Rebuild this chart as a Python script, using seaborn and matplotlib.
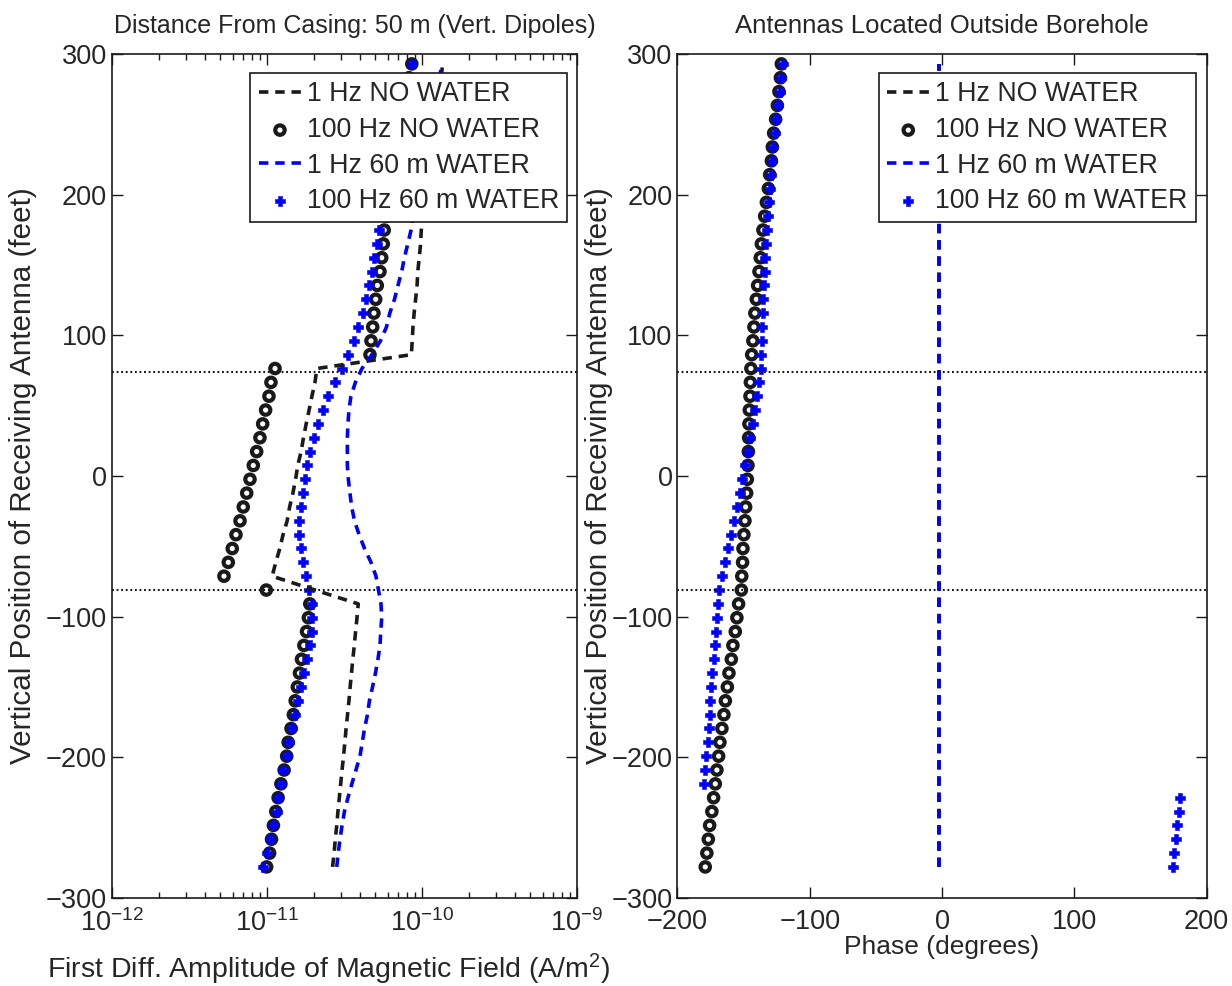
import numpy as np
import pandas as pd
import matplotlib
matplotlib.use("Agg")
import matplotlib.pyplot as plt
import seaborn as sns

# Receiver stations (3 m spacing), plotted in feet
station_m = np.arange(-84.7, 90.0, 3.0)
depth_ft = station_m * 3.2808

# Boundaries of the water-filled zone (feet)
zone_top_ft = 74.0
zone_bottom_ft = -81.0

# First-difference amplitude (A/m^2), bottom station first
amp_1hz_dry = [
    2.65e-11, 2.71e-11, 2.76e-11, 2.82e-11, 2.87e-11, 2.93e-11, 2.99e-11, 3.05e-11,
    3.12e-11, 3.18e-11, 3.24e-11, 3.31e-11, 3.38e-11, 3.44e-11, 3.51e-11, 3.58e-11,
    3.66e-11, 3.73e-11, 3.81e-11, 3.88e-11, 2.04e-11, 1.08e-11, 1.14e-11, 1.21e-11,
    1.27e-11, 1.35e-11, 1.40e-11, 1.47e-11, 1.53e-11, 1.58e-11, 1.66e-11, 1.72e-11,
    1.79e-11, 1.87e-11, 1.95e-11, 2.04e-11, 2.10e-11, 8.55e-11, 8.65e-11, 8.75e-11,
    8.90e-11, 9.10e-11, 9.30e-11, 9.40e-11, 9.60e-11, 9.80e-11, 9.90e-11, 1.01e-10,
    1.04e-10, 1.07e-10, 1.10e-10, 1.13e-10, 1.16e-10, 1.19e-10, 1.22e-10, 1.26e-10,
    1.30e-10, 1.33e-10, 1.36e-10,
]
amp_100hz_dry = [
    9.95e-12, 1.04e-11, 1.07e-11, 1.10e-11, 1.14e-11, 1.18e-11, 1.23e-11, 1.29e-11,
    1.34e-11, 1.37e-11, 1.43e-11, 1.48e-11, 1.52e-11, 1.57e-11, 1.62e-11, 1.67e-11,
    1.73e-11, 1.80e-11, 1.85e-11, 1.89e-11, 9.90e-12, 5.28e-12, 5.63e-12, 5.97e-12,
    6.31e-12, 6.70e-12, 7.03e-12, 7.40e-12, 7.77e-12, 8.16e-12, 8.58e-12, 9.01e-12,
    9.38e-12, 9.80e-12, 1.03e-11, 1.061e-11, 1.127e-11, 4.62e-11, 4.69e-11, 4.81e-11,
    4.90e-11, 5.03e-11, 5.15e-11, 5.36e-11, 5.50e-11, 5.63e-11, 5.71e-11, 5.92e-11,
    6.08e-11, 6.24e-11, 6.42e-11, 6.62e-11, 6.84e-11, 7.08e-11, 7.34e-11, 7.62e-11,
    7.92e-11, 8.24e-11, 8.60e-11,
]
amp_1hz_water = [
    2.82e-11, 2.88e-11, 2.96e-11, 3.05e-11, 3.16e-11, 3.33e-11, 3.53e-11, 3.75e-11,
    3.98e-11, 4.12e-11, 4.26e-11, 4.45e-11, 4.58e-11, 4.80e-11, 5.01e-11, 5.20e-11,
    5.36e-11, 5.42e-11, 5.50e-11, 5.44e-11, 5.24e-11, 5.05e-11, 4.69e-11, 4.26e-11,
    3.93e-11, 3.67e-11, 3.52e-11, 3.43e-11, 3.35e-11, 3.30e-11, 3.30e-11, 3.30e-11,
    3.33e-11, 3.38e-11, 3.48e-11, 3.72e-11, 4.10e-11, 4.75e-11, 5.40e-11, 5.90e-11,
    6.20e-11, 6.65e-11, 7.00e-11, 7.40e-11, 7.70e-11, 8.10e-11, 8.50e-11, 8.80e-11,
    9.10e-11, 9.60e-11, 9.90e-11, 1.04e-10, 1.08e-10, 1.12e-10, 1.16e-10, 1.20e-10,
    1.25e-10, 1.30e-10, 1.34e-10,
]
amp_100hz_water = [
    9.47e-12, 9.95e-12, 1.04e-11, 1.09e-11, 1.16e-11, 1.18e-11, 1.23e-11, 1.27e-11,
    1.34e-11, 1.39e-11, 1.44e-11, 1.52e-11, 1.59e-11, 1.67e-11, 1.73e-11, 1.82e-11,
    1.89e-11, 1.94e-11, 1.94e-11, 1.94e-11, 1.87e-11, 1.79e-11, 1.70e-11, 1.65e-11,
    1.62e-11, 1.62e-11, 1.65e-11, 1.70e-11, 1.76e-11, 1.82e-11, 1.89e-11, 2.01e-11,
    2.12e-11, 2.29e-11, 2.48e-11, 2.75e-11, 3.03e-11, 3.35e-11, 3.62e-11, 3.88e-11,
    4.14e-11, 4.35e-11, 4.57e-11, 4.74e-11, 4.90e-11, 5.10e-11, 5.32e-11, 5.65e-11,
    5.95e-11, 6.26e-11, 6.59e-11, 6.90e-11, 7.21e-11, 7.48e-11, 7.77e-11, 8.06e-11,
    8.30e-11, 8.49e-11, 8.60e-11,
]

# Phase (degrees), bottom station first
phase_1hz_dry = [
    -2.5, -2.5, -2.5, -2.5, -2.5, -2.5, -2.5, -2.5, -2.5, -2.5, -2.5, -2.5, -2.5, -2.5, -2.5,
    -2.5, -2.5, -2.5, -2.5, -2.5, -2.5, -2.5, -2.5, -2.5, -2.5, -2.5, -2.5, -2.5, -2.5, -2.5,
    -2.5, -2.5, -2.5, -2.5, -2.5, -2.5, -2.5, -2.5, -2.5, -2.5, -2.5, -2.5, -2.5, -2.5, -2.5,
    -2.5, -2.5, -2.5, -2.5, -2.5, -2.5, -2.5, -2.5, -2.5, -2.5, -2.5, -2.5, -2.5, -2.5,
]
phase_100hz_dry = [
    -179.0, -177.8, -176.7, -175.7, -174.0, -172.7, -171.4, -170.2, -168.9, -167.9,
    -166.4, -164.9, -163.8, -162.3, -161.1, -159.3, -158.1, -156.3, -155.1, -153.8,
    -151.7, -151.4, -150.8, -150.5, -149.8, -149.0, -148.5, -147.7, -147.2, -146.7,
    -146.4, -146.2, -146.0, -145.7, -145.2, -144.9, -144.5, -143.9, -143.0, -142.2,
    -141.5, -140.4, -139.4, -138.4, -137.4, -136.6, -135.4, -134.1, -132.8, -131.3,
    -130.3, -129.0, -128.3, -127.3, -125.8, -124.5, -123.3, -122.2, -121.5,
]
phase_1hz_water = [
    -2.5, -2.5, -2.5, -2.5, -2.5, -2.5, -2.5, -2.5, -2.5, -2.5, -2.5, -2.5, -2.5, -2.5, -2.5,
    -2.5, -2.5, -2.5, -2.5, -2.5, -2.5, -2.5, -2.5, -2.5, -2.5, -2.5, -2.5, -2.5, -2.5, -2.5,
    -2.5, -2.5, -2.5, -2.5, -2.5, -2.5, -2.5, -2.5, -2.5, -2.5, -2.5, -2.5, -2.5, -2.5, -2.5,
    -2.5, -2.5, -2.5, -2.5, -2.5, -2.5, -2.5, -2.5, -2.5, -2.5, -2.5, -2.5, -2.5, -2.5,
]
phase_100hz_water = [
    174.3, 175.3, 176.6, 177.8, 179.0, 179.8, -179.9, -179.0, -178.2, -177.0,
    -176.5, -175.7, -175.2, -174.4, -173.7, -172.7, -171.9, -171.2, -170.2, -169.4,
    -168.7, -166.6, -164.4, -161.9, -159.6, -157.3, -155.1, -153.0, -151.0, -148.7,
    -146.7, -144.9, -143.0, -141.1, -139.6, -138.3, -137.1, -136.6, -136.0, -135.9,
    -135.4, -135.4, -134.9, -134.1, -133.6, -132.8, -132.4, -131.6, -131.1, -130.3,
    -129.6, -128.3, -127.8, -126.6, -125.3, -124.1, -122.8, -121.5, -120.3,
]

labels = ["1 Hz NO WATER", "100 Hz NO WATER", "1 Hz 60 m WATER", "100 Hz 60 m WATER"]

sns.set_theme(style="ticks")
plt.rcParams["font.family"] = ["Liberation Sans", "DejaVu Sans"]
plt.rcParams["mathtext.fontset"] = "custom"
plt.rcParams["mathtext.rm"] = "Liberation Sans"
plt.rcParams["mathtext.it"] = "Liberation Sans:italic"
plt.rcParams["axes.unicode_minus"] = True

TICK_FS = 19.5
DASH = (0, (2.6, 1.9))
BLUE = (0, 0, 1)


def draw_panel(ax, ys, series):
    x_dry1, x_dry100, x_wat1, x_wat100 = series
    sns.lineplot(x=x_dry1, y=ys, sort=False, estimator=None, ax=ax,
                 color="k", lw=2.6, linestyle=DASH, label=labels[0])
    sns.scatterplot(x=x_dry100, y=ys, ax=ax, marker="o", s=46,
                    color="k", label=labels[1])
    circ = ax.collections[-1]
    circ.set_facecolor("none")
    circ.set_edgecolor("k")
    circ.set_linewidth(3.0)
    sns.lineplot(x=x_wat1, y=ys, sort=False, estimator=None, ax=ax,
                 color=BLUE, lw=2.6, linestyle=DASH, label=labels[2])
    sns.scatterplot(x=x_wat100, y=ys, ax=ax, marker="P", s=48,
                    color=BLUE, edgecolor=BLUE, linewidth=0.4, label=labels[3])
    for yb in (zone_top_ft, zone_bottom_ft):
        ax.axhline(yb, color="k", lw=1.5, linestyle=(0, (0.9, 1.3)), zorder=1)


fig = plt.figure(figsize=(12.32, 9.86), dpi=100)
ax1 = fig.add_axes([0.0909, 0.0892, 0.3774, 0.856])
ax2 = fig.add_axes([0.5499, 0.0892, 0.4295, 0.856])

draw_panel(ax1, depth_ft, (amp_1hz_dry, amp_100hz_dry, amp_1hz_water, amp_100hz_water))
draw_panel(ax2, depth_ft, (phase_1hz_dry, phase_100hz_dry, phase_1hz_water, phase_100hz_water))

ax1.set_xscale("log")
ax1.set_xlim(1e-12, 1e-9)
ax2.set_xlim(-200, 200)
ax2.set_xticks([-200, -100, 0, 100, 200])
for ax in (ax1, ax2):
    ax.set_ylim(-300, 300)
    ax.set_yticks([-300, -200, -100, 0, 100, 200, 300])
    ax.tick_params(which="both", direction="in", top=True, right=True,
                   labelsize=TICK_FS, width=1.0, color="k")
    ax.tick_params(which="major", length=8)
    ax.tick_params(which="minor", length=4)
    ax.tick_params(axis="x", which="both", pad=8)
    for sp in ax.spines.values():
        sp.set_color("k")
        sp.set_linewidth(1.2)
    ax.set_ylabel("Vertical Position of Receiving Antenna (feet)", fontsize=21.3)
    leg = ax.legend(loc="upper right", bbox_to_anchor=(0.979, 0.977), borderaxespad=0,
                    fontsize=19.3, frameon=True, fancybox=False, framealpha=1,
                    edgecolor="k", handlelength=1.6, handletextpad=0.2,
                    labelspacing=0.36, borderpad=0.3)
    leg.get_frame().set_linewidth(1.2)
    leg.set_zorder(10)

ax1.yaxis.set_label_coords(-0.161, 0.5)
ax2.yaxis.set_label_coords(-0.122, 0.5)

ax1.set_xlabel("First Diff. Amplitude of Magnetic Field (A/m$^2$)", fontsize=20.5)
ax1.xaxis.set_label_coords(0.466, -0.064)
ax2.set_xlabel("Phase (degrees)", fontsize=19, labelpad=0)
ax1.set_title("Distance From Casing: 50 m (Vert. Dipoles)", fontsize=18, pad=15, x=0.523)
ax2.set_title("Antennas Located Outside Borehole", fontsize=18.5, pad=15)

fig.savefig("out.png", dpi=100, facecolor="white")
